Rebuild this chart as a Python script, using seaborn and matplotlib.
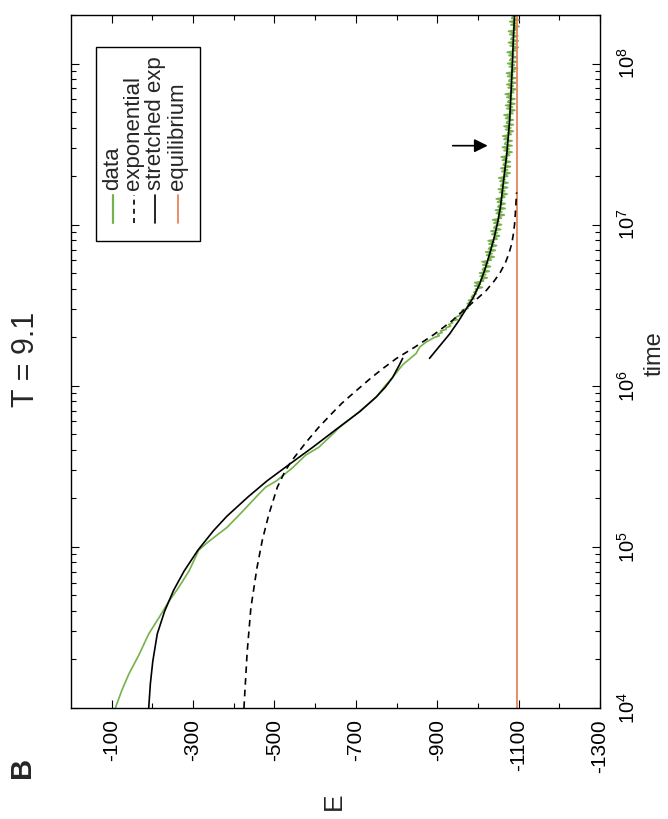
import numpy as np
import pandas as pd
import matplotlib
matplotlib.use("Agg")
import matplotlib.pyplot as plt
import matplotlib.patches as mpatches
from matplotlib.ticker import FixedLocator, NullFormatter
import seaborn as sns

# ---------------- data (log10 of time, energy E) ----------------
data_logt = [
    4.00, 4.11, 4.21, 4.33, 4.46, 4.56, 4.66, 4.75, 4.85, 4.98, 5.02, 5.06,
    5.12, 5.20, 5.31, 5.37, 5.41, 5.49, 5.57, 5.62, 5.70, 5.74, 5.83, 5.93,
    6.00, 6.06, 6.13, 6.20, 6.24, 6.27,
    6.30, 6.31, 6.32, 6.33, 6.34, 6.35, 6.36, 6.37, 6.38, 6.39,
    6.40, 6.41, 6.42, 6.43, 6.44, 6.45, 6.46, 6.47, 6.48, 6.49,
    6.50, 6.51, 6.52, 6.53, 6.54, 6.55, 6.56, 6.57, 6.58, 6.59,
    6.60, 6.61, 6.62, 6.63, 6.64, 6.65, 6.66, 6.67, 6.68, 6.69,
    6.70, 6.71, 6.72, 6.73, 6.74, 6.75, 6.76, 6.77, 6.78, 6.79,
    6.80, 6.81, 6.82, 6.83, 6.84, 6.85, 6.86, 6.87, 6.88, 6.89,
    6.90, 6.91, 6.92, 6.93, 6.94, 6.95, 6.96, 6.97, 6.98, 6.99,
    7.00, 7.01, 7.02, 7.03, 7.04, 7.05, 7.06, 7.07, 7.08, 7.09,
    7.10, 7.11, 7.12, 7.13, 7.14, 7.15, 7.16, 7.17, 7.18, 7.19,
    7.20, 7.21, 7.22, 7.23, 7.24, 7.25, 7.26, 7.27, 7.28, 7.29,
    7.30, 7.31, 7.32, 7.33, 7.34, 7.35, 7.36, 7.37, 7.38, 7.39,
    7.40, 7.41, 7.42, 7.43, 7.44, 7.45, 7.46, 7.47, 7.48, 7.49,
    7.50, 7.51, 7.52, 7.53, 7.54, 7.55, 7.56, 7.57, 7.58, 7.59,
    7.60, 7.61, 7.62, 7.63, 7.64, 7.65, 7.66, 7.67, 7.68, 7.69,
    7.70, 7.71, 7.72, 7.73, 7.74, 7.75, 7.76, 7.77, 7.78, 7.79,
    7.80, 7.81, 7.82, 7.83, 7.84, 7.85, 7.86, 7.87, 7.88, 7.89,
    7.90, 7.91, 7.92, 7.93, 7.94, 7.95, 7.96, 7.97, 7.98, 7.99,
    8.00, 8.01, 8.02, 8.03, 8.04, 8.05, 8.06, 8.07, 8.08, 8.09,
    8.10, 8.11, 8.12, 8.13, 8.14, 8.15, 8.16, 8.17, 8.18, 8.19,
    8.20, 8.21, 8.22, 8.23, 8.24, 8.25, 8.26, 8.27, 8.28, 8.29,
    8.30]
data_E = [
    -109, -125, -142, -167, -191, -216, -240, -265, -290, -314, -332, -352,
    -383, -414, -455, -478, -505, -544, -577, -610, -643, -659, -704, -750,
    -772, -793, -815, -848, -857, -872,
    -893, -905, -901, -912, -908, -922, -922, -933, -928, -938,
    -934, -949, -944, -949, -960, -955, -965, -961, -976, -974,
    -981, -974, -983, -977, -991, -984, -987, -996, -990, -998,
    -994, -1011, -992, -1006, -992, -1014, -1007, -1023, -1005, -1019,
    -1004, -1028, -1011, -1014, -1031, -1012, -1025, -1010, -1033, -1025,
    -1040, -1021, -1035, -1019, -1043, -1026, -1030, -1046, -1027, -1040,
    -1025, -1047, -1039, -1053, -1034, -1048, -1032, -1056, -1039, -1042,
    -1058, -1039, -1052, -1036, -1058, -1050, -1065, -1045, -1059, -1043,
    -1067, -1049, -1052, -1067, -1048, -1060, -1045, -1066, -1058, -1072,
    -1053, -1066, -1050, -1073, -1056, -1058, -1074, -1054, -1067, -1051,
    -1073, -1064, -1079, -1059, -1073, -1056, -1080, -1062, -1064, -1080,
    -1060, -1072, -1057, -1078, -1069, -1084, -1064, -1077, -1060, -1084,
    -1066, -1068, -1084, -1064, -1076, -1061, -1082, -1073, -1087, -1068,
    -1081, -1064, -1087, -1070, -1072, -1087, -1068, -1080, -1064, -1086,
    -1077, -1091, -1071, -1085, -1068, -1091, -1073, -1076, -1091, -1071,
    -1083, -1067, -1088, -1080, -1094, -1074, -1087, -1071, -1094, -1076,
    -1078, -1093, -1073, -1086, -1070, -1091, -1082, -1097, -1077, -1090,
    -1073, -1096, -1078, -1081, -1096, -1076, -1088, -1072, -1093, -1085,
    -1099, -1079, -1092, -1075, -1099, -1081, -1083, -1098, -1078, -1091,
    -1075, -1096, -1087, -1101, -1081, -1095, -1078, -1101, -1083, -1085,
    -1100]

exp_logt = [4.00, 4.35, 4.62, 4.87, 5.04, 5.20, 5.37, 5.47, 5.53, 5.65, 5.74, 5.82,
            5.89, 5.95, 6.00, 6.05, 6.11, 6.17, 6.24, 6.32, 6.40, 6.48, 6.54, 6.59,
            6.65, 6.70, 6.76, 6.82, 6.88, 6.94, 7.00, 7.07, 7.20]
exp_E = [-425, -433, -442, -457, -470, -486, -507, -526, -541, -578, -608, -638,
         -665, -692, -715, -738, -768, -800, -845, -893, -935, -970, -998, -1020,
         -1040, -1054, -1067, -1076, -1083, -1087, -1090, -1092, -1095]

str1_logt = [4.00, 4.15, 4.29, 4.46, 4.60, 4.73, 4.85, 4.98, 5.10, 5.19, 5.31, 5.41,
             5.50, 5.62, 5.73, 5.84, 5.93, 5.99, 6.05, 6.12, 6.17]
str1_E = [-191, -195, -201, -212, -230, -252, -278, -312, -350, -383, -435, -482,
          -530, -595, -652, -710, -750, -772, -790, -805, -815]

str2_logt = [6.17, 6.25, 6.32, 6.40, 6.48, 6.55, 6.63, 6.72, 6.82, 6.92, 7.02, 7.12,
             7.23, 7.44, 7.65, 7.85, 8.02, 8.15, 8.30]
str2_E = [-881, -907, -930, -952, -972, -989, -1004, -1017, -1029, -1040, -1049, -1056,
          -1061, -1071, -1078, -1082, -1085, -1087, -1090]

equilibrium_E = -1095

arrow_logt = 7.49
arrow_E_start = -938
arrow_E_end = -1024

E_ticks = [-100, -300, -500, -700, -900, -1100, -1300]
E_tick_labels = ["-100", "-300", "-500", "-700", "-900", "-1100", "-1300"]
E_minor_ticks = [-200, -400, -600, -800, -1000, -1200]
time_ticks = [1e4, 1e5, 1e6, 1e7, 1e8]
time_tick_labels = [r"$10^{4}$", r"$10^{5}$", r"$10^{6}$", r"$10^{7}$", r"$10^{8}$"]
legend_labels = ["data", "exponential", "stretched exp", "equilibrium"]

# ---------------- style ----------------
sns.set_style("ticks")
plt.rcParams["font.family"] = ["Liberation Sans", "DejaVu Sans"]
plt.rcParams["mathtext.fontset"] = "custom"
plt.rcParams["mathtext.rm"] = "Liberation Sans"
plt.rcParams["mathtext.it"] = "Liberation Sans:italic"
plt.rcParams["mathtext.bf"] = "Liberation Sans:bold"

GREEN = "#74b24a"
ORANGE = "#e8825c"

W, H = 668, 819
fig = plt.figure(figsize=(W / 100, H / 100), dpi=100)
ax = fig.add_axes([71 / W, 1 - 708 / H, 529 / W, 693 / H])

df_data = pd.DataFrame({"E": data_E, "t": [10 ** v for v in data_logt]})
df_exp = pd.DataFrame({"E": exp_E, "t": [10 ** v for v in exp_logt]})
df_s1 = pd.DataFrame({"E": str1_E, "t": [10 ** v for v in str1_logt]})
df_s2 = pd.DataFrame({"E": str2_E, "t": [10 ** v for v in str2_logt]})
df_eq = pd.DataFrame({"E": [equilibrium_E, equilibrium_E], "t": [1e4, 2e8]})

sns.lineplot(data=df_data, x="E", y="t", sort=False, estimator=None, ax=ax,
             color=GREEN, lw=1.2)
sns.lineplot(data=df_eq, x="E", y="t", sort=False, estimator=None, ax=ax,
             color=ORANGE, lw=1.3)
sns.lineplot(data=df_exp, x="E", y="t", sort=False, estimator=None, ax=ax,
             color="black", lw=1.2, linestyle=(0, (4, 3)))
sns.lineplot(data=df_s1, x="E", y="t", sort=False, estimator=None, ax=ax,
             color="black", lw=1.2)
sns.lineplot(data=df_s2, x="E", y="t", sort=False, estimator=None, ax=ax,
             color="black", lw=1.2)

ax.annotate("", xy=(arrow_E_end, 10 ** arrow_logt), xytext=(arrow_E_start, 10 ** arrow_logt),
            arrowprops=dict(arrowstyle="-|>", color="black", lw=1.2,
                            mutation_scale=20, shrinkA=0, shrinkB=0))

# axes
ax.set_yscale("log")
ax.set_xlim(0, -1300)
ax.set_ylim(1e4, 2e8)

ax.set_xticks(E_ticks)
ax.set_xticklabels(E_tick_labels, rotation=90, ha="center", va="top")
ax.xaxis.set_minor_locator(FixedLocator(E_minor_ticks))

ax.set_yticks(time_ticks)
ax.set_yticklabels(time_tick_labels, rotation=90, va="center")
ax.yaxis.set_minor_locator(FixedLocator(
    [m * 10 ** e for e in range(4, 9) for m in range(2, 10) if m * 10 ** e <= 2e8]))
ax.yaxis.set_minor_formatter(NullFormatter())

ax.tick_params(axis="both", which="both", direction="in", top=True, bottom=True,
               left=True, right=True, width=0.8, colors="black")
ax.tick_params(axis="both", which="major", length=6)
ax.tick_params(axis="both", which="minor", length=3.5)
ax.tick_params(axis="x", which="both", labelsize=15, pad=8)
ax.tick_params(axis="y", which="both", labelleft=False, labelright=True,
               labelsize=14.5, pad=12)

for sp in ax.spines.values():
    sp.set_visible(True)
    sp.set_color("black")
    sp.set_linewidth(1.0)

ax.set_xlabel("")
ax.set_ylabel("")
fig.text(334 / W, 1 - 801 / H, "E", rotation=90, ha="center", va="center", fontsize=19)
fig.text(655 / W, 1 - 354 / H, "time", rotation=90, ha="center", va="center", fontsize=17)

# manual (rotated) legend
ax.add_patch(mpatches.Rectangle((0.047, 0.674), 0.197, 0.280, transform=ax.transAxes,
                                fill=False, ec="black", lw=1.0, zorder=5))
leg_x = [0.0794, 0.119, 0.159, 0.202]
leg_styles = [dict(color=GREEN, lw=1.6), dict(color="black", lw=1.2, linestyle=(0, (3, 2.5))),
              dict(color="black", lw=1.2), dict(color=ORANGE, lw=1.3)]
for lx, lab, st in zip(leg_x, legend_labels, leg_styles):
    ax.plot([lx, lx], [0.700, 0.740], transform=ax.transAxes, zorder=6, **st)
    ax.text(lx, 0.747, lab, transform=ax.transAxes, rotation=90, ha="center",
            va="bottom", fontsize=16, zorder=6)

fig.text(26 / W, 1 - 359 / H, "T = 9.1", rotation=90, ha="center", va="center", fontsize=22)
fig.text(22 / W, 1 - 767 / H, "B", rotation=90, ha="center", va="center", fontsize=21,
         fontweight="bold")

fig.savefig("out.png", dpi=100)
